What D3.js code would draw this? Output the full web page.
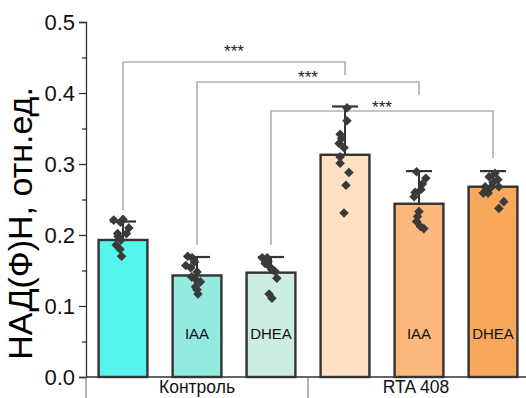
<!DOCTYPE html>
<html><head><meta charset="utf-8">
<script src="https://cdn.jsdelivr.net/npm/d3@7"></script>
<style>body{margin:0;background:#fff}svg{display:block;font-family:Arial,"Liberation Sans",sans-serif}</style>
</head><body><svg id="c" width="526" height="398"></svg>
<script>
const categories = ["Контроль", "Контроль IAA", "Контроль DHEA", "RTA 408", "RTA 408 IAA", "RTA 408 DHEA"];
const innerLabels = ["", "IAA", "DHEA", "", "IAA", "DHEA"];
const groups = ["Контроль", "RTA 408"];
const means = [0.193, 0.143, 0.147, 0.313, 0.244, 0.268];
const errUp = [0.026, 0.026, 0.022, 0.068, 0.046, 0.022];
const colors = ["#55F5EC", "#93EAE1", "#CCEEE2", "#FFE0C2", "#FBB87D", "#F9A85B"];
const points = [
  [0.221, 0.222, 0.218, 0.210, 0.202, 0.202, 0.198, 0.193, 0.186, 0.180, 0.170],
  [0.170, 0.168, 0.162, 0.157, 0.154, 0.148, 0.141, 0.137, 0.134, 0.127, 0.123, 0.117],
  [0.168, 0.168, 0.163, 0.160, 0.155, 0.151, 0.149, 0.139, 0.117, 0.111],
  [0.379, 0.361, 0.342, 0.336, 0.329, 0.323, 0.310, 0.301, 0.288, 0.270, 0.231],
  [0.289, 0.280, 0.272, 0.264, 0.260, 0.254, 0.233, 0.226, 0.219, 0.212, 0.209],
  [0.287, 0.282, 0.278, 0.274, 0.268, 0.268, 0.266, 0.259, 0.259, 0.247, 0.2375]
];
// horizontal jitter of each point, in fractions of bar width
const jitter = [
  [-0.19, 0.0, -0.05, 0.12, -0.11, 0.07, -0.10, -0.04, -0.14, -0.06, -0.03],
  [-0.19, -0.10, -0.05, -0.23, -0.13, 0.0, -0.11, -0.02, 0.07, -0.03, 0.0, 0.02],
  [-0.18, -0.08, -0.06, -0.12, -0.02, 0.02, 0.08, 0.12, -0.04, 0.02],
  [0.04, 0.04, -0.10, -0.07, -0.12, -0.02, -0.10, -0.10, 0.08, 0.02, -0.02],
  [-0.05, 0.14, 0.07, 0.04, -0.08, -0.10, 0.0, -0.03, -0.05, 0.03, 0.10],
  [0.04, -0.08, 0.10, 0.0, 0.12, -0.16, -0.06, -0.20, -0.10, 0.22, 0.12]
];
const brackets = [
  {from: 0, to: 3, level: 0.4437, leftEnd: 0.235, rightEnd: 0.4254, label: "***", lift: 0.020},
  {from: 1, to: 4, level: 0.4155, leftEnd: 0.186, rightEnd: 0.397, label: "***", lift: 0.011},
  {from: 2, to: 5, level: 0.3746, leftEnd: 0.186, rightEnd: 0.3085, label: "***", lift: 0.010}
];
const yTicks = [0, 0.1, 0.2, 0.3, 0.4, 0.5];
const yMinor = [0.05, 0.15, 0.25, 0.35, 0.45];
const yTitle = "НАД(Ф)Н, отн.ед.";

const svg = d3.select("#c");
const x = d3.scaleBand().domain(categories).range([86, 530]).paddingInner(0.34).paddingOuter(0.17);
const y = d3.scaleLinear().domain([0, 0.5]).range([377, 22]);
const dark = "#333";

// Y axis
const yAxis = d3.axisLeft(y).tickValues(yTicks).tickFormat(d3.format(".1f")).tickSize(7).tickPadding(4);
const ya = svg.append("g").attr("transform", "translate(86,0)").call(yAxis);
ya.select(".domain").attr("stroke", dark).attr("stroke-width", 1.3);
ya.selectAll(".tick line").attr("stroke", dark).attr("stroke-width", 1.3);
ya.selectAll(".tick text").attr("font-size", 22).attr("fill", "#111").attr("font-family", "Arial, 'Liberation Sans', sans-serif");
const yAxisMinor = d3.axisLeft(y).tickValues(yMinor).tickFormat("").tickSize(4);
const ym = svg.append("g").attr("transform", "translate(86,0)").call(yAxisMinor);
ym.select(".domain").remove();
ym.selectAll(".tick line").attr("stroke", dark).attr("stroke-width", 1.3);

svg.append("text").attr("transform", `translate(32,${(y(0)+y(0.5))/2 + 24}) rotate(-90)`)
  .attr("text-anchor", "middle").attr("font-size", 34).attr("fill", "#000").text(yTitle);

// X axis baseline and group separators
const xEnd = 530;
svg.append("line").attr("x1", 86).attr("x2", xEnd).attr("y1", y(0)).attr("y2", y(0)).attr("stroke", dark).attr("stroke-width", 1.3);
const groupBounds = [86, x.range()[0] + x.step() * 3, xEnd];
groupBounds.slice(0, 2).forEach(gx => {
  svg.append("line").attr("x1", gx).attr("x2", gx).attr("y1", y(0)).attr("y2", 398).attr("stroke", "#666").attr("stroke-width", 1);
});
groups.forEach((g, i) => {
  svg.append("text").attr("x", (groupBounds[i] + groupBounds[i+1]) / 2 - (i ? 3 : 0)).attr("y", 393)
    .attr("text-anchor", "middle").attr("font-size", 17.5).attr("fill", "#111").text(g);
});

// Brackets
brackets.forEach(b => {
  const x1 = x(categories[b.from]) + x.bandwidth()/2, x2 = x(categories[b.to]) + x.bandwidth()/2;
  svg.append("path").attr("d", `M${x1},${y(b.leftEnd)}V${y(b.level)}H${x2}V${y(b.rightEnd)}`)
    .attr("fill", "none").attr("stroke", "#8a8a8a").attr("stroke-width", 1.1);
  svg.append("text").attr("x", (x1 + x2) / 2).attr("y", y(b.level + b.lift) + 9)
    .attr("text-anchor", "middle").attr("font-size", 17).attr("fill", "#222").text(b.label);
});

// Bars
svg.selectAll("rect.bar").data(categories).join("rect").attr("class", "bar")
  .attr("x", d => x(d)).attr("width", x.bandwidth())
  .attr("y", (d, i) => y(means[i])).attr("height", (d, i) => y(0) - y(means[i]))
  .attr("fill", (d, i) => colors[i]).attr("stroke", dark).attr("stroke-width", 2.4);

// Inner labels
svg.selectAll("text.inl").data(categories).join("text").attr("class", "inl")
  .attr("x", d => x(d) + x.bandwidth()/2).attr("y", 339)
  .attr("text-anchor", "middle").attr("font-size", 15).attr("fill", "#111")
  .text((d, i) => innerLabels[i]);

// Error bars
categories.forEach((c, i) => {
  const cx = x(c) + x.bandwidth()/2;
  svg.append("line").attr("x1", cx).attr("x2", cx).attr("y1", y(means[i])).attr("y2", y(means[i] + errUp[i]))
    .attr("stroke", dark).attr("stroke-width", 2);
  svg.append("line").attr("x1", cx - 13).attr("x2", cx + 13).attr("y1", y(means[i] + errUp[i])).attr("y2", y(means[i] + errUp[i]))
    .attr("stroke", dark).attr("stroke-width", 2.2);
});

// Points
const sym = d3.symbol().type(d3.symbolSquare).size(46);
categories.forEach((c, i) => {
  const cx = x(c) + x.bandwidth()/2;
  svg.append("g").selectAll("path").data(points[i]).join("path")
    .attr("d", sym)
    .attr("transform", (v, j) => `translate(${cx + jitter[i][j] * x.bandwidth()},${y(v)}) rotate(45)`)
    .attr("fill", "#3a3a3a");
});
</script></body></html>
